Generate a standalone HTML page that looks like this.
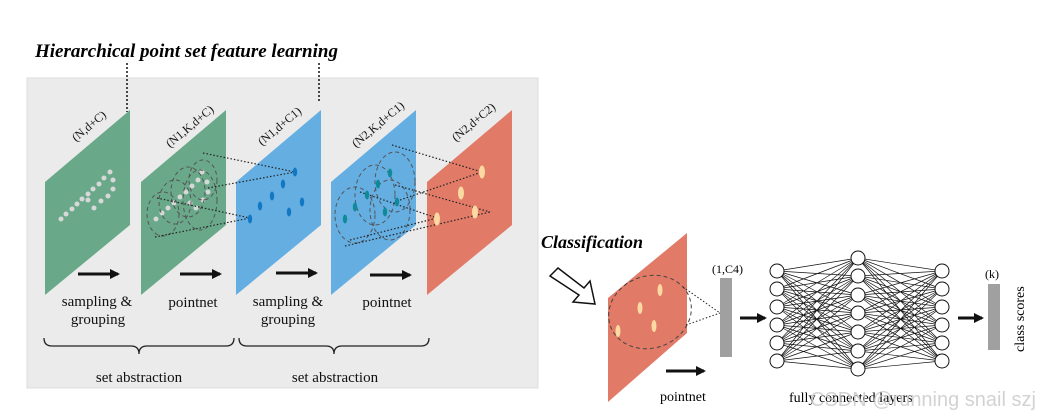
<!DOCTYPE html><html><head><style>body{margin:0;background:#fff}svg{display:block}text{font-family:"Liberation Serif",serif}</style></head><body>
<svg width="1041" height="418" viewBox="0 0 1041 418" xmlns="http://www.w3.org/2000/svg">
<defs><marker id="ah" markerWidth="10" markerHeight="10" refX="8" refY="5" orient="auto" markerUnits="userSpaceOnUse"><path d="M0,0 L10,5 L0,10z" fill="#111"/></marker></defs>
<text x="35" y="57" font-size="19" font-weight="bold" font-style="italic">Hierarchical point set feature learning</text>
<rect x="27" y="78" width="511" height="310" fill="#ebebeb" stroke="#ddd"/>
<g stroke="#111" stroke-width="1.5" stroke-dasharray="2,2"><line x1="127" y1="63" x2="127" y2="112"/><line x1="319" y1="63" x2="319" y2="102"/></g>
<g>
<polygon points="45,182 130,110 130,225 45,295" fill="#69a98a"/>
<polygon points="141,182 226,110 226,225 141,295" fill="#69a98a"/>
<polygon points="236,182 321,110 321,225 236,295" fill="#64aee2"/>
<polygon points="331,182 416,110 416,225 331,295" fill="#64aee2"/>
<polygon points="427,182 512,110 512,225 427,295" fill="#e27a68"/>
</g>
<g fill="#d8d8d8">
<circle cx="61" cy="219" r="2.5"/><circle cx="66" cy="214" r="2.5"/><circle cx="72" cy="209" r="2.5"/><circle cx="77" cy="204" r="2.5"/><circle cx="82" cy="199" r="2.5"/><circle cx="88" cy="194" r="2.5"/><circle cx="93" cy="189" r="2.5"/><circle cx="99" cy="184" r="2.5"/><circle cx="104" cy="178" r="2.5"/><circle cx="110" cy="172" r="2.5"/><circle cx="113" cy="180" r="2.5"/><circle cx="113" cy="189" r="2.5"/><circle cx="108" cy="196" r="2.5"/><circle cx="101" cy="201" r="2.5"/><circle cx="94" cy="208" r="2.5"/><circle cx="88" cy="200" r="2.5"/>
<circle cx="156" cy="219" r="2.5"/><circle cx="162" cy="213" r="2.5"/><circle cx="168" cy="208" r="2.5"/><circle cx="174" cy="203" r="2.5"/><circle cx="180" cy="197" r="2.5"/><circle cx="186" cy="192" r="2.5"/><circle cx="192" cy="186" r="2.5"/><circle cx="198" cy="180" r="2.5"/><circle cx="202" cy="172" r="2.5"/><circle cx="207" cy="182" r="2.5"/><circle cx="208" cy="192" r="2.5"/><circle cx="203" cy="200" r="2.5"/><circle cx="196" cy="208" r="2.5"/><circle cx="190" cy="203" r="2.5"/>
</g>
<g fill="none" stroke="#555" stroke-dasharray="4,3" stroke-width="1">
<ellipse cx="163" cy="214" rx="16" ry="22"/><ellipse cx="175" cy="202" rx="16" ry="22"/><ellipse cx="188" cy="192" rx="17" ry="25"/><ellipse cx="200" cy="200" rx="17" ry="30"/><ellipse cx="203" cy="180" rx="14" ry="20"/>
<ellipse cx="355" cy="215" rx="20" ry="28"/><ellipse cx="375" cy="195" rx="20" ry="30"/><ellipse cx="395" cy="182" rx="20" ry="30"/><ellipse cx="390" cy="210" rx="20" ry="30"/>
</g>
<g stroke="#222" stroke-width="1.2" stroke-dasharray="1.5,2">
<line x1="203" y1="153" x2="295" y2="172"/><line x1="155" y1="237" x2="250" y2="218"/><line x1="208" y1="188" x2="295" y2="172"/><line x1="157" y1="198" x2="250" y2="218"/>
<line x1="392" y1="145" x2="482" y2="172"/><line x1="345" y1="246" x2="490" y2="212"/><line x1="360" y1="192" x2="437" y2="218"/><line x1="350" y1="240" x2="437" y2="218"/><line x1="395" y1="185" x2="490" y2="212"/><line x1="400" y1="200" x2="482" y2="172"/>
</g>
<g fill="#1278c4"><ellipse cx="295" cy="172" rx="2.2" ry="4.5"/><ellipse cx="283" cy="184" rx="2.2" ry="4.5"/><ellipse cx="272" cy="196" rx="2.2" ry="4.5"/><ellipse cx="260" cy="206" rx="2.2" ry="4.5"/><ellipse cx="250" cy="219" rx="2.2" ry="4.5"/><ellipse cx="302" cy="202" rx="2.2" ry="4.5"/><ellipse cx="289" cy="212" rx="2.2" ry="4.5"/></g>
<g fill="#108a9a"><ellipse cx="390" cy="173" rx="2.2" ry="4.5"/><ellipse cx="378" cy="184" rx="2.2" ry="4.5"/><ellipse cx="367" cy="195" rx="2.2" ry="4.5"/><ellipse cx="355" cy="207" rx="2.2" ry="4.5"/><ellipse cx="345" cy="219" rx="2.2" ry="4.5"/><ellipse cx="397" cy="202" rx="2.2" ry="4.5"/><ellipse cx="385" cy="212" rx="2.2" ry="4.5"/></g>
<g fill="#fcd9a0"><ellipse cx="482" cy="172" rx="3" ry="6.5"/><ellipse cx="461" cy="193" rx="3" ry="6.5"/><ellipse cx="475" cy="212" rx="3" ry="6.5"/><ellipse cx="437" cy="219" rx="3" ry="6.5"/></g>
<g font-size="12" fill="#111">
<text transform="translate(76,142) rotate(-40)">(N,d+C)</text>
<text transform="translate(170,148) rotate(-40)">(N1,K,d+C)</text>
<text transform="translate(262,146) rotate(-40)">(N1,d+C1)</text>
<text transform="translate(356,148) rotate(-40)">(N2,K,d+C1)</text>
<text transform="translate(456,142) rotate(-40)">(N2,d+C2)</text>
</g>
<g stroke="#111" stroke-width="3" marker-end="url(#ah)">
<line x1="78" y1="274" x2="118" y2="274"/><line x1="180" y1="274" x2="220" y2="274"/><line x1="276" y1="273" x2="316" y2="273"/><line x1="370" y1="275" x2="410" y2="275"/>
</g>
<g font-size="15" fill="#111" text-anchor="middle">
<text x="97" y="306">sampling &amp;</text><text x="98" y="324">grouping</text>
<text x="193" y="307">pointnet</text>
<text x="288" y="306">sampling &amp;</text><text x="288" y="324">grouping</text>
<text x="387" y="307">pointnet</text>
<text x="139" y="382">set abstraction</text><text x="335" y="382">set abstraction</text>
</g>
<g fill="none" stroke="#222" stroke-width="1.3">
<path d="M44,338 q0,8 8,8 h79 q8,0 8,8 q0,-8 8,-8 h79 q8,0 8,-8"/>
<path d="M239,338 q0,8 8,8 h79 q8,0 8,8 q0,-8 8,-8 h79 q8,0 8,-8"/>
</g>
<text x="541" y="248" font-size="18" font-weight="bold" font-style="italic">Classification</text>
<polygon points="550,276 558,268 584,288 590,281 595,304 573,302 579,295" fill="#fff" stroke="#111" stroke-width="1.5"/>
<polygon points="608,298 687,233 687,333 608,402" fill="#e27a68"/>
<ellipse cx="650" cy="312" rx="42" ry="36" transform="rotate(-20 650 312)" fill="none" stroke="#444" stroke-dasharray="4,3"/>
<g fill="#fcd9a0"><ellipse cx="660" cy="290" rx="2.5" ry="6"/><ellipse cx="640" cy="308" rx="2.5" ry="6"/><ellipse cx="654" cy="326" rx="2.5" ry="6"/><ellipse cx="618" cy="331" rx="2.5" ry="6"/></g>
<g stroke="#222" stroke-dasharray="1.5,2"><line x1="683" y1="287" x2="720" y2="313"/><line x1="686" y1="325" x2="720" y2="313"/></g>
<rect x="720" y="278" width="12" height="79" fill="#a0a0a0"/>
<text x="712" y="273" font-size="12">(1,C4)</text>
<g stroke="#111" stroke-width="3" marker-end="url(#ah)"><line x1="666" y1="371" x2="704" y2="371"/><line x1="740" y1="318" x2="765" y2="318"/><line x1="958" y1="318" x2="982" y2="318"/></g>
<text x="660" y="401" font-size="14">pointnet</text>
<g stroke="#111" stroke-width="0.7">
<path d="M777,271 L858,258 M777,271 L858,276 M777,271 L858,295 M777,271 L858,313 M777,271 L858,332 M777,271 L858,351 M777,271 L858,369 M777,289 L858,258 M777,289 L858,276 M777,289 L858,295 M777,289 L858,313 M777,289 L858,332 M777,289 L858,351 M777,289 L858,369 M777,307 L858,258 M777,307 L858,276 M777,307 L858,295 M777,307 L858,313 M777,307 L858,332 M777,307 L858,351 M777,307 L858,369 M777,325 L858,258 M777,325 L858,276 M777,325 L858,295 M777,325 L858,313 M777,325 L858,332 M777,325 L858,351 M777,325 L858,369 M777,343 L858,258 M777,343 L858,276 M777,343 L858,295 M777,343 L858,313 M777,343 L858,332 M777,343 L858,351 M777,343 L858,369 M777,361 L858,258 M777,361 L858,276 M777,361 L858,295 M777,361 L858,313 M777,361 L858,332 M777,361 L858,351 M777,361 L858,369"/>
<path d="M942,271 L858,258 M942,271 L858,276 M942,271 L858,295 M942,271 L858,313 M942,271 L858,332 M942,271 L858,351 M942,271 L858,369 M942,289 L858,258 M942,289 L858,276 M942,289 L858,295 M942,289 L858,313 M942,289 L858,332 M942,289 L858,351 M942,289 L858,369 M942,307 L858,258 M942,307 L858,276 M942,307 L858,295 M942,307 L858,313 M942,307 L858,332 M942,307 L858,351 M942,307 L858,369 M942,325 L858,258 M942,325 L858,276 M942,325 L858,295 M942,325 L858,313 M942,325 L858,332 M942,325 L858,351 M942,325 L858,369 M942,343 L858,258 M942,343 L858,276 M942,343 L858,295 M942,343 L858,313 M942,343 L858,332 M942,343 L858,351 M942,343 L858,369 M942,361 L858,258 M942,361 L858,276 M942,361 L858,295 M942,361 L858,313 M942,361 L858,332 M942,361 L858,351 M942,361 L858,369"/>
</g>
<g fill="#fff" stroke="#111" stroke-width="1">
<circle cx="777" cy="271" r="7"/><circle cx="777" cy="289" r="7"/><circle cx="777" cy="307" r="7"/><circle cx="777" cy="325" r="7"/><circle cx="777" cy="343" r="7"/><circle cx="777" cy="361" r="7"/>
<circle cx="858" cy="258" r="7"/><circle cx="858" cy="276" r="7"/><circle cx="858" cy="295" r="7"/><circle cx="858" cy="313" r="7"/><circle cx="858" cy="332" r="7"/><circle cx="858" cy="351" r="7"/><circle cx="858" cy="369" r="7"/>
<circle cx="942" cy="271" r="7"/><circle cx="942" cy="289" r="7"/><circle cx="942" cy="307" r="7"/><circle cx="942" cy="325" r="7"/><circle cx="942" cy="343" r="7"/><circle cx="942" cy="361" r="7"/>
</g>
<text x="789" y="402" font-size="14">fully connected layers</text>
<text x="810" y="406" font-size="20" fill="#c8c8c8" opacity="0.8" style="font-family:'Liberation Sans',sans-serif">CSDN @running snail szj</text>
<rect x="988" y="284" width="12" height="66" fill="#a0a0a0"/>
<text x="985" y="278" font-size="12">(k)</text>
<text transform="translate(1024,352) rotate(-90)" font-size="14">class scores</text>
</svg>
</body></html>
